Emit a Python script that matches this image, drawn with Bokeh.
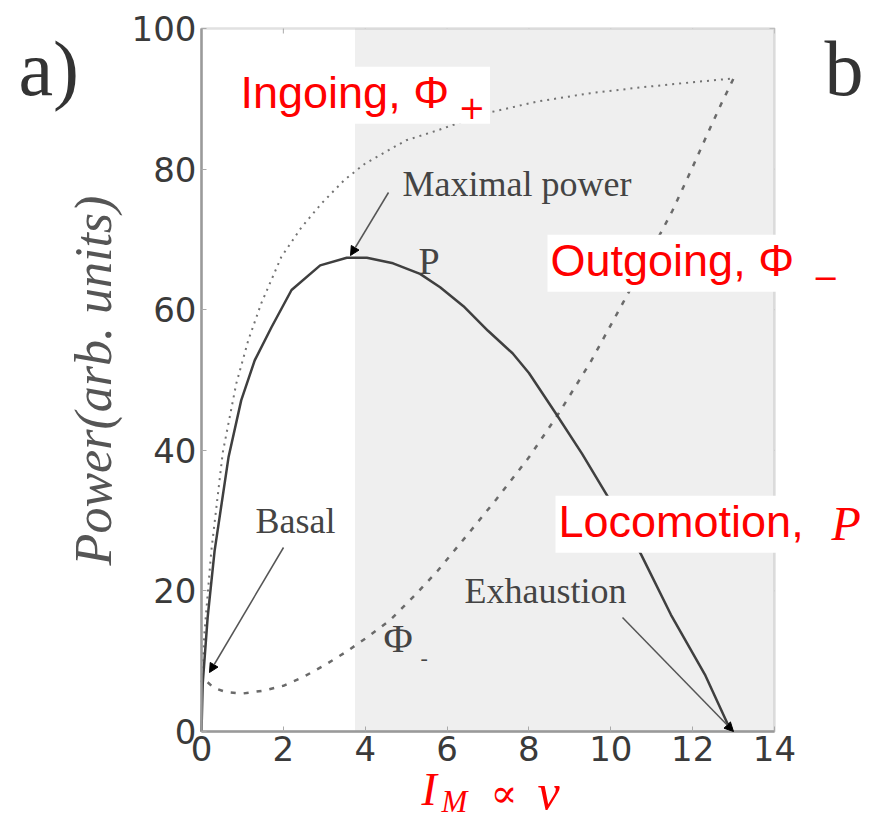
import math
from bokeh.plotting import figure
from bokeh.models import (Range1d, FixedTicker, Label, Arrow, NormalHead,
                          BoxAnnotation)
from bokeh.embed import file_html
from bokeh.resources import INLINE

# ---------------- data ----------------
x_ticks = [0, 2, 4, 6, 8, 10, 12, 14]
y_ticks = [0, 20, 40, 60, 80, 100]

# Locomotion power P (solid)
p_x = [0, 0.03, 0.15, 0.32, 0.66, 0.97, 1.30, 1.71, 2.2, 2.9, 3.55, 4.04,
       4.68, 5.34, 5.83, 6.4, 7.0, 7.6, 8.0, 8.65, 9.3, 10.0, 10.74, 11.47,
       12.3, 12.94]
p_y = [0, 6.8, 16.2, 25.7, 39.0, 47.1, 52.8, 57.5, 62.8, 66.3, 67.4, 67.4,
       66.6, 65.1, 63.2, 60.5, 57.0, 53.8, 51.0, 45.3, 39.5, 32.7, 25.2, 16.6,
       8.1, 0]

# Ingoing Phi+ (dotted)
phi_plus_x = [0, 0.07, 0.24, 0.52, 0.85, 1.14, 1.46, 1.95, 2.44, 2.93, 3.5,
              4.0, 5.0, 5.76, 7.0, 8.2, 9.5, 10.7, 11.9, 13.0]
phi_plus_y = [7.0, 13.9, 25.7, 39.7, 49.5, 55.6, 60.9, 67.5, 71.7, 75.1,
              78.5, 80.8, 84.1, 85.5, 88.0, 89.6, 90.8, 91.6, 92.3, 92.9]

# Outgoing Phi- (dashed)
phi_minus_x = [0.15, 0.3, 0.6, 1.0, 1.5, 2.0, 2.5, 3.0, 3.5, 4.0, 4.6, 5.2,
               5.76, 6.5, 7.2, 8.0, 8.7, 9.5, 10.3, 11.0, 11.5, 12.0, 12.4,
               12.7, 13.0]
phi_minus_y = [7.0, 6.2, 5.6, 5.4, 5.8, 6.5, 7.8, 9.4, 11.2, 13.2, 15.8, 19.3,
               22.8, 28.0, 33.0, 39.0, 45.0, 52.5, 61.0, 68.5, 74.0, 80.3,
               85.5, 89.3, 92.9]

shade_start = 3.75

# ---------------- layout ----------------
W, H = 866, 820
FL, FR, FT, FB = 201, 774, 28, 731   # plot box edges in canvas pixels
SX = (FR - FL) / (x_ticks[-1] - x_ticks[0])
SY = (FB - FT) / (y_ticks[-1] - y_ticks[0])


def dx(px):
    """canvas pixel x -> data x (for annotation placement)"""
    return x_ticks[0] + (px - FL) / SX


def dy(py):
    """canvas pixel y -> data y (for annotation placement)"""
    return y_ticks[0] + (FB - py) / SY


# the frame spans the whole canvas; the axes sit at fixed data locations
p = figure(width=W, height=H, output_backend="svg", toolbar_location=None,
           x_range=Range1d(dx(0), dx(W)), y_range=Range1d(dy(H), dy(0)),
           min_border=0)
p.background_fill_color = "white"
p.border_fill_color = "white"
p.outline_line_color = None
p.xgrid.visible = False
p.ygrid.visible = False

p.xaxis.fixed_location = y_ticks[0]
p.xaxis.bounds = (x_ticks[0], x_ticks[-1])
p.yaxis.fixed_location = x_ticks[0]
p.yaxis.bounds = (y_ticks[0], y_ticks[-1])
for ax, ticks in ((p.xaxis[0], x_ticks), (p.yaxis[0], y_ticks)):
    ax.ticker = FixedTicker(ticks=ticks)
    ax.major_label_text_font = "DejaVu Sans"
    ax.major_label_text_font_size = "34px"
    ax.major_label_text_color = "#3a3a3a"
    ax.major_tick_in = 5
    ax.major_tick_out = 0
    ax.minor_tick_in = 0
    ax.minor_tick_out = 0
    ax.major_tick_line_color = "#aaaaaa"
    ax.axis_line_color = "#9a9a9a"
    ax.axis_line_width = 2.5
p.xaxis.major_label_standoff = 4
p.yaxis.major_label_standoff = 5

# shaded exhaustion side
p.add_layout(BoxAnnotation(left=shade_start, right=x_ticks[-1],
                           bottom=y_ticks[0], top=y_ticks[-1],
                           fill_color="#efefef", fill_alpha=1,
                           line_color=None, level="underlay"))
# plot box
p.add_layout(BoxAnnotation(left=x_ticks[0], right=x_ticks[-1],
                           bottom=y_ticks[0], top=y_ticks[-1],
                           fill_color=None, line_color="#9a9a9a",
                           line_width=2.5, level="underlay"))

# inward ticks on the top and right edges
tl_y = 5 / SY
tl_x = 5 / SX
p.segment(x0=x_ticks, y0=[y_ticks[-1]] * len(x_ticks), x1=x_ticks,
          y1=[y_ticks[-1] - tl_y] * len(x_ticks), line_color="#aaaaaa",
          line_width=1, level="underlay")
p.segment(x0=[x_ticks[-1]] * len(y_ticks), y0=y_ticks,
          x1=[x_ticks[-1] - tl_x] * len(y_ticks), y1=y_ticks,
          line_color="#aaaaaa", line_width=1, level="underlay")

p.line(phi_plus_x, phi_plus_y, line_color="#737373", line_width=2,
       line_dash="2 5")
p.line(phi_minus_x, phi_minus_y, line_color="#6a6a6a", line_width=2.5,
       line_dash="5 8")
p.line(p_x, p_y, line_color="#3f3f3f", line_width=2.5)

# ---------------- arrows ----------------
for (x0, y0, x1, y1) in ((283, 547, 209, 672), (388, 192, 350, 255),
                         (622, 617, 733, 731)):
    p.add_layout(Arrow(x_start=dx(x0), y_start=dy(y0), x_end=dx(x1), y_end=dy(y1),
                       line_color="#555555", line_width=1.5,
                       end=NormalHead(size=9, fill_color="black",
                                      line_color="black")))


# ---------------- annotation texts ----------------
def lab(text, px, py, size, font="Liberation Serif", color="#444444",
        style="normal", align="left", base=None, **kw):
    """py is the middle of the text, or base gives the baseline"""
    if base is not None:
        py = base - 0.34 * size
    p.add_layout(Label(x=dx(px), y=dy(py), text=text, text_font=font,
                       text_font_size=f"{size}px", text_color=color,
                       text_font_style=style, text_baseline="middle",
                       text_align=align, **kw))


lab("Maximal power", 402, 183, 36)
lab("P", 418, 260, 38)
lab("Basal", 255, 520, 36)
lab("Exhaustion", 464, 590, 36)
lab("Φ", 383, 638, 40)
lab("-", 420, 657, 22)

# panel letters
lab("a)", 18, 0, 78, color="#333333", base=95)
lab("b", 824, 0, 78, color="#333333", base=95)

# y axis label
lab("Power(arb. units)", 93, 380, 52, color="#555555", style="italic",
    align="center", angle=math.pi / 2)

# x axis label  I_M ∝ v
RED = "#ff0000"
lab("I", 421, 0, 46, color=RED, style="italic", base=805)
lab("M", 441, 0, 31, color=RED, style="italic", base=812)
lab("∝", 490, 792, 40, font="DejaVu Serif", color=RED)
lab("v", 537, 0, 50, color=RED, style="italic", base=808)

# red boxed labels
lab("Ingoing, Φ", 237, 0, 45, font="Liberation Sans", color=RED, base=110,
    background_fill_color="white",
    padding=dict(left=3, right=41, top=0, bottom=6))
lab("+", 458, 107, 32, font="DejaVu Sans", color=RED)

lab("Outgoing, Φ", 547, 0, 45, font="Liberation Sans", color=RED, base=278,
    background_fill_color="white",
    padding=dict(left=3, right=49, top=0, bottom=6))
lab("−", 812, 277, 32, font="DejaVu Sans", color=RED)

lab("Locomotion, ", 555, 0, 45, font="Liberation Sans", color=RED, base=539,
    background_fill_color="white",
    padding=dict(left=3, right=62, top=0, bottom=6))
lab("P", 831, 0, 48, color=RED, style="italic", base=539)

open("out.html", "w").write(file_html(p, INLINE))
